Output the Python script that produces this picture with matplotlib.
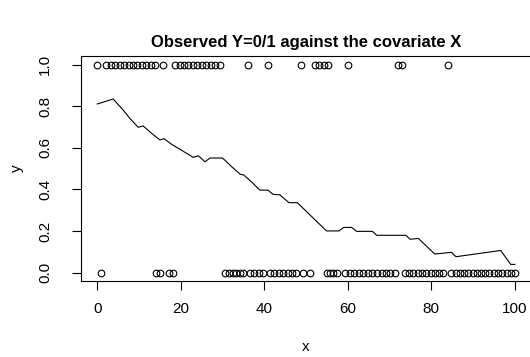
import numpy as np
import matplotlib
matplotlib.use("Agg")
import matplotlib.pyplot as plt

plt.rcParams['font.family'] = ['Liberation Sans', 'DejaVu Sans']

x_ones = [0.0, 2.2, 3.3, 4.3, 5.4, 6.4, 7.5, 8.5, 9.6, 10.7, 11.7, 12.8, 13.8,
          15.8, 18.6, 19.7, 20.8, 21.8, 22.9, 24.0, 25.1, 26.1, 27.2, 28.3, 29.4,
          36.2, 40.9, 48.9, 52.1, 53.2, 54.2, 55.3, 60.1, 72.0, 73.0, 84.0]

x_zeros = [1.0, 14.0, 15.0, 17.2, 18.2,
           30.6, 31.5, 32.4, 33.2, 34.1, 35.0,
           36.6, 37.6, 38.7, 39.7,
           41.3, 42.4, 43.4, 44.5, 45.6, 46.6, 47.7,
           49.3, 50.9,
           54.9, 55.7, 56.5, 57.3,
           59.3, 60.4, 61.5, 62.6, 63.7, 64.8, 65.9, 67.0, 68.1, 69.2, 70.2, 71.3,
           73.7, 74.7, 75.7, 76.7, 77.8, 78.8, 79.8, 80.8, 81.8, 82.8,
           84.8, 85.8, 86.8, 87.8, 88.8, 89.9, 90.9, 91.9, 92.9, 93.9, 94.9,
           95.9, 96.9, 98.0, 99.0, 100.0]

# smoothed estimate of P(Y=1 | X)
smooth_x = [0.0, 3.8, 6.2, 7.8, 9.8, 11.0, 13.0, 15.0, 16.0, 17.8, 19.8, 23.0,
            24.2, 25.8, 27.0, 30.0, 32.2, 34.2, 35.1, 37.3, 38.9, 40.9, 42.1,
            43.7, 45.9, 47.9, 54.9, 57.9, 59.0, 60.9, 62.1, 65.9, 66.9, 73.9,
            74.9, 76.9, 80.8, 84.8, 85.9, 96.6, 99.0, 100.0]
smooth_y = [0.811, 0.835, 0.782, 0.742, 0.699, 0.705, 0.670, 0.638, 0.644,
            0.617, 0.593, 0.554, 0.562, 0.533, 0.551, 0.551, 0.509, 0.473,
            0.469, 0.429, 0.397, 0.396, 0.376, 0.374, 0.336, 0.336, 0.200,
            0.200, 0.217, 0.217, 0.198, 0.198, 0.179, 0.179, 0.160, 0.164,
            0.089, 0.097, 0.076, 0.106, 0.039, 0.039]

xticks = [0, 20, 40, 60, 80, 100]
yticks = [0.0, 0.2, 0.4, 0.6, 0.8, 1.0]

fig = plt.figure(figsize=(5.3, 3.57), dpi=100)
ax = fig.add_axes([0.152, 0.2134, 0.851, 0.6286])

ax.plot(x_ones, np.ones(len(x_ones)), 'o', mfc='none', mec='black', ms=4.8, mew=0.8)
ax.plot(x_zeros, np.zeros(len(x_zeros)), 'o', mfc='none', mec='black', ms=4.8, mew=0.8)
ax.plot(smooth_x, smooth_y, color='black', lw=0.8)

ax.set_xlim(-4, 104)
ax.set_ylim(-0.04, 1.04)
ax.set_xticks(xticks)
ax.set_xticklabels([str(t) for t in xticks])
ax.set_yticks(yticks)
ax.set_yticklabels(['%.1f' % t for t in yticks])

for s in ax.spines.values():
    s.set_linewidth(0.8)
ax.tick_params(direction='out', length=6.5, width=0.8, labelsize=11, pad=9)
ax.tick_params(axis='y', labelrotation=90, pad=14)
for lab in ax.get_yticklabels():
    lab.set_va('center')

ax.set_xlabel('x', fontsize=11, labelpad=17)
ax.set_ylabel('y', fontsize=11, labelpad=10)
ax.set_title('Observed Y=0/1 against the covariate X', fontsize=12,
             fontweight='bold', pad=7)

fig.savefig('out.png', dpi=100)
